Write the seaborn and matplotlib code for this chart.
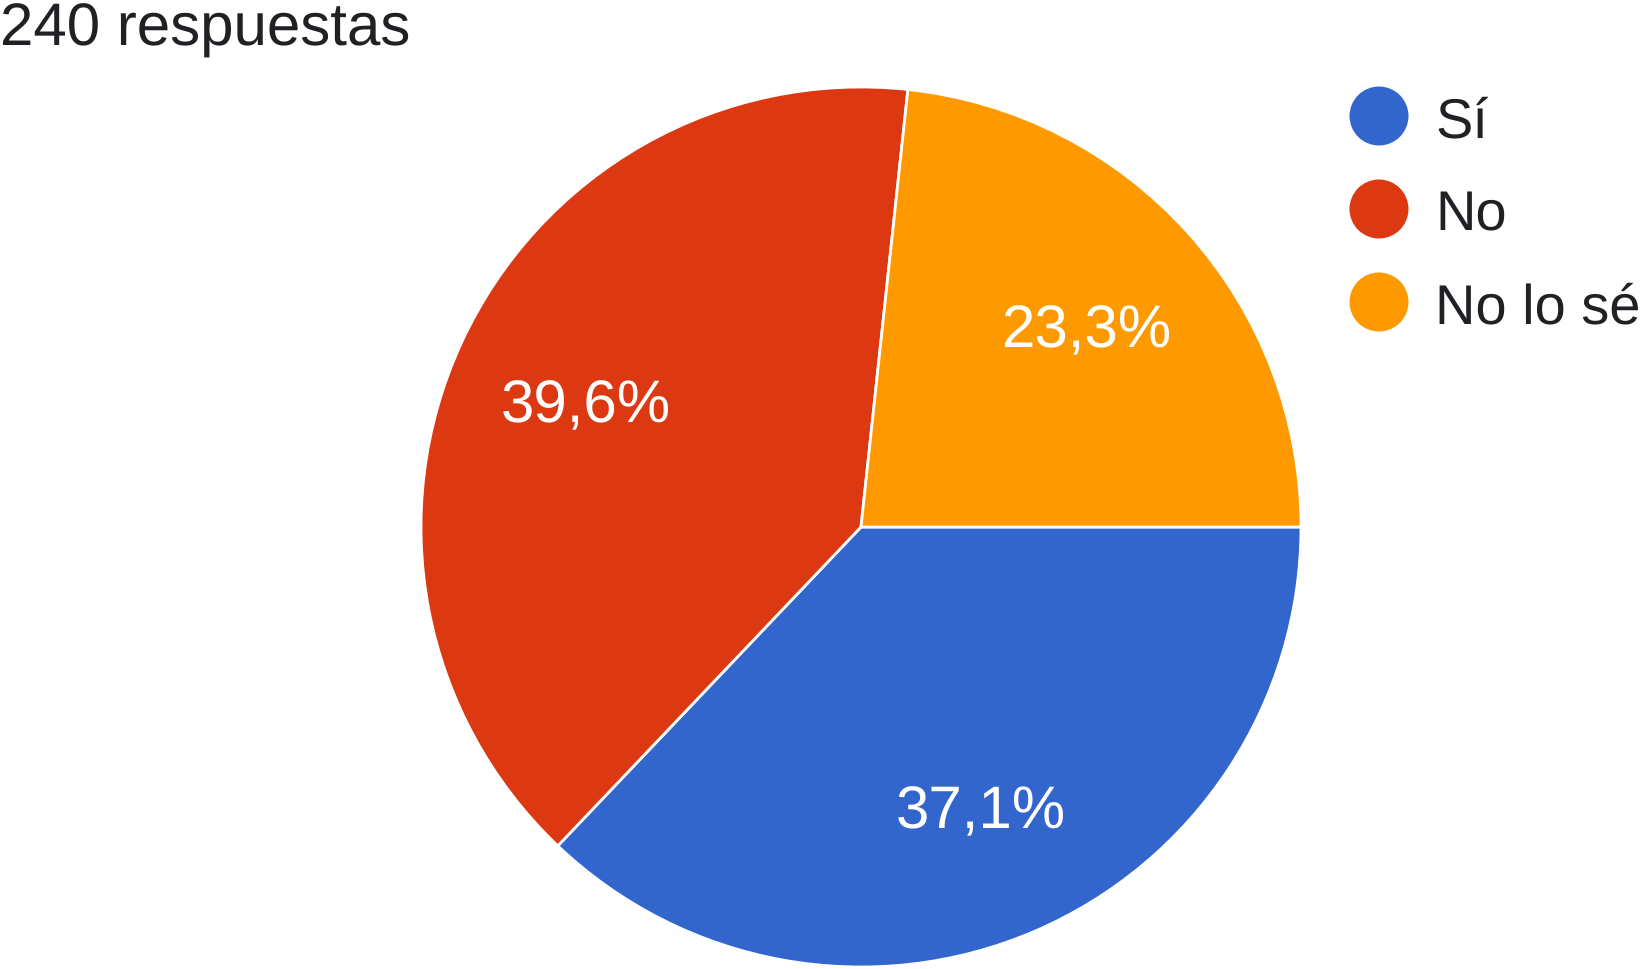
import matplotlib
matplotlib.use("Agg")
import matplotlib.pyplot as plt
import seaborn as sns

# data
labels = ["Sí", "No", "No lo sé"]
shares = [37.1, 39.6, 23.3]
colors = ["#3366CC", "#DC3912", "#FF9900"]
n_responses = 240

sns.set_theme(style="white")
plt.rcParams["font.family"] = ["Liberation Sans", "DejaVu Sans"]
plt.rcParams["text.hinting"] = "no_hinting"
plt.rcParams["text.hinting_factor"] = 1

W, H = 1650, 970
fig = plt.figure(figsize=(W / 100, H / 100), dpi=100)
fig.patch.set_facecolor("white")

# overlay axes in pixel units for title + legend
ov = fig.add_axes([0, 0, 1, 1])
ov.set_xlim(0, W)
ov.set_ylim(H, 0)
ov.axis("off")

# pie axes: center (861, 528), radius 440 px
cx, cy, r = 861, 528, 440
ax = fig.add_axes([(cx - r) / W, (H - cy - r) / H, 2 * r / W, 2 * r / H])
wedges, texts, autotexts = ax.pie(
    shares,
    colors=colors,
    startangle=0,
    counterclock=False,
    autopct=lambda p: f"{p:.1f}%".replace(".", ","),
    pctdistance=0.69,
    wedgeprops=dict(edgecolor="white", linewidth=2),
    textprops=dict(color="white", fontsize=43),
)
for t in autotexts:
    t.set_verticalalignment("center_baseline")
ax.set_xlim(-1, 1)
ax.set_ylim(-1, 1)
ax.set_aspect("equal")
ax.axis("off")

ov.text(0, 46, f"{n_responses} respuestas", fontsize=43, color="#202124",
        ha="left", va="baseline")

# legend
for i, (lab, col) in enumerate(zip(labels, colors)):
    y = 117 + i * 93
    ov.scatter([1379], [y], s=(59 * 0.72) ** 2, color=col, edgecolor="none", zorder=3)
    ov.text(1435, y + 20, lab, fontsize=40, color="#202124", ha="left", va="baseline")

fig.savefig("out.png", dpi=100)
